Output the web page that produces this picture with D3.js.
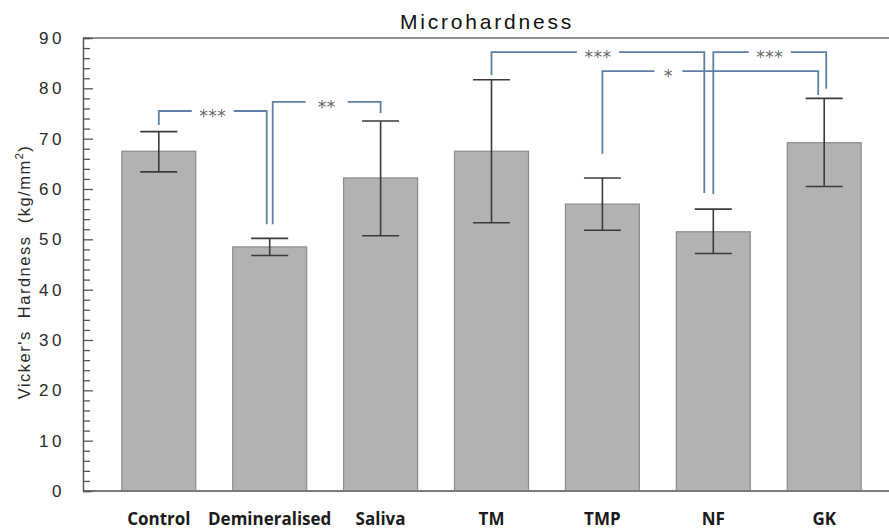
<!DOCTYPE html>
<html>
<head>
<meta charset="utf-8">
<script src="https://cdn.jsdelivr.net/npm/d3@7"></script>
<style>
  body { margin: 0; background: #fff; }
  svg { display: block; }
</style>
</head>
<body>
<div id="chart"></div>
<script>
// data
const groups = ["Control", "Demineralised", "Saliva", "TM", "TMP", "NF", "GK"];
const means  = [67.5, 48.5, 62.2, 67.5, 57.0, 51.5, 69.2];
const errHi  = [71.4, 50.2, 73.5, 81.7, 62.2, 56.0, 78.0];
const errLo  = [63.4, 46.8, 50.7, 53.3, 51.8, 47.2, 60.5];
const yTicks = [0, 10, 20, 30, 40, 50, 60, 70, 80, 90];

// significance brackets (values in y units)
const brFrom  = ["Control", "Demineralised", "TM", "TMP", "NF"];
const brTo    = ["Demineralised", "Saliva", "NF", "GK", "GK"];
const brLabel = ["***", "**", "***", "*", "***"];
const brLevel = [75.5, 77.3, 87.2, 83.4, 87.2];
const brLeftEnd  = [72.7, 53.0, 82.6, 67.0, 59.0];
const brRightEnd = [53.0, 75.1, 59.2, 78.7, 79.9];

const width = 889, height = 531;
const margin = { top: 38, left: 83, bottom: 40 };

const svg = d3.select("#chart").append("svg")
  .attr("width", width)
  .attr("height", height);

const x = d3.scaleBand()
  .domain(groups)
  .range([margin.left, 900])
  .paddingInner(0.333)
  .paddingOuter(0.35);

const y = d3.scaleLinear()
  .domain([0, 90])
  .range([491, margin.top]);

// frame top line
svg.append("line")
  .attr("x1", margin.left).attr("x2", width)
  .attr("y1", y(90)).attr("y2", y(90))
  .attr("stroke", "#6f6f6f").attr("stroke-width", 1.5);

// bars
svg.selectAll("rect.bar")
  .data(groups)
  .enter().append("rect")
  .attr("class", "bar")
  .attr("x", d => x(d))
  .attr("y", (d, i) => y(means[i]))
  .attr("width", x.bandwidth())
  .attr("height", (d, i) => y(0) - y(means[i]))
  .attr("fill", "#b2b2b2")
  .attr("stroke", "#8c8c8c")
  .attr("stroke-width", 1.2);

// error bars
const capHalf = 18.5;
const err = svg.append("g").attr("stroke", "#3a3a3a").attr("stroke-width", 1.6);
groups.forEach((g, i) => {
  const cx = x(g) + x.bandwidth() / 2;
  err.append("line").attr("x1", cx).attr("x2", cx).attr("y1", y(errHi[i])).attr("y2", y(errLo[i]));
  err.append("line").attr("x1", cx - capHalf).attr("x2", cx + capHalf).attr("y1", y(errHi[i])).attr("y2", y(errHi[i]));
  err.append("line").attr("x1", cx - capHalf).attr("x2", cx + capHalf).attr("y1", y(errLo[i])).attr("y2", y(errLo[i]));
});

// bottom axis line
svg.append("line")
  .attr("x1", margin.left).attr("x2", width)
  .attr("y1", y(0)).attr("y2", y(0))
  .attr("stroke", "#7a7a7a").attr("stroke-width", 2);

// y axis with inward ticks
const yAxis = svg.append("g")
  .attr("transform", `translate(${margin.left},0)`)
  .call(d3.axisRight(y).tickValues(d3.range(0, 91, 2)).tickSize(7).tickFormat(""));
yAxis.select(".domain").attr("stroke", "#555").attr("stroke-width", 1.5);
yAxis.selectAll(".tick line")
  .attr("stroke", "#555").attr("stroke-width", 1.3)
  .attr("x2", d => d % 10 === 0 ? 10 : 7);

svg.selectAll("text.ytick")
  .data(yTicks)
  .enter().append("text")
  .attr("class", "ytick")
  .attr("x", 65)
  .attr("y", d => y(d) + 6)
  .attr("text-anchor", "end")
  .attr("letter-spacing", "3.5px")
  .style("font-family", "Liberation Sans, Arial, sans-serif")
  .style("font-size", "17px")
  .style("fill", "#2a2a2a")
  .text(d => d);

// x labels
svg.selectAll("text.xlab")
  .data(groups)
  .enter().append("text")
  .attr("class", "xlab")
  .attr("x", d => x(d) + x.bandwidth() / 2)
  .attr("y", 525)
  .attr("text-anchor", "middle")
  .style("font-family", "Open Sans, sans-serif")
  .style("font-weight", "bold")
  .style("font-size", "17px")
  .style("fill", "#1a1a1a")
  .text(d => d);

// title
svg.append("text")
  .attr("x", 487).attr("y", 29)
  .attr("text-anchor", "middle")
  .attr("letter-spacing", "2.8px")
  .style("font-family", "Liberation Sans, Arial, sans-serif")
  .style("font-size", "21px")
  .style("fill", "#111")
  .text("Microhardness");

// y axis title
svg.append("text")
  .attr("transform", "translate(30,272) rotate(-90)")
  .attr("text-anchor", "middle")
  .attr("letter-spacing", "1.5px")
  .style("font-family", "Liberation Sans, Arial, sans-serif")
  .style("font-size", "16.5px")
  .style("fill", "#2a2a2a")
  .style("white-space", "pre")
  .html("Vicker's&#160; Hardness&#160; (kg/mm<tspan dy='-7' font-size='11px'>2</tspan><tspan dy='7'>)</tspan>");

// brackets
const legShift = [[0, -3], [3, 0], [0, -9], [0, -6], [0, 2]];
const labelAt = [0.5, 0.5, 0.5, 0.306, 0.5];
const brColor = "#5f7fa6";
const br = svg.append("g");
brFrom.forEach((f, i) => {
  const x1 = x(f) + x.bandwidth() / 2 + legShift[i][0];
  const x2 = x(brTo[i]) + x.bandwidth() / 2 + legShift[i][1];
  const ly = y(brLevel[i]);
  const tx = x1 + (x2 - x1) * labelAt[i];
  const gap = brLabel[i].length === 1 ? 14 : 21;
  br.append("path")
    .attr("d", `M${x1},${y(brLeftEnd[i])}V${ly}H${tx - gap}`)
    .attr("fill", "none").attr("stroke", brColor).attr("stroke-width", 1.8);
  br.append("path")
    .attr("d", `M${tx + gap},${ly}H${x2}V${y(brRightEnd[i])}`)
    .attr("fill", "none").attr("stroke", brColor).attr("stroke-width", 1.8);
  br.append("text")
    .attr("x", tx).attr("y", ly + 11)
    .attr("text-anchor", "middle")
    .attr("letter-spacing", "0.5px")
    .style("font-family", "DejaVu Sans, sans-serif")
    .style("font-size", "17px")
    .style("fill", "#666")
    .text(brLabel[i]);
});
</script>
</body>
</html>
